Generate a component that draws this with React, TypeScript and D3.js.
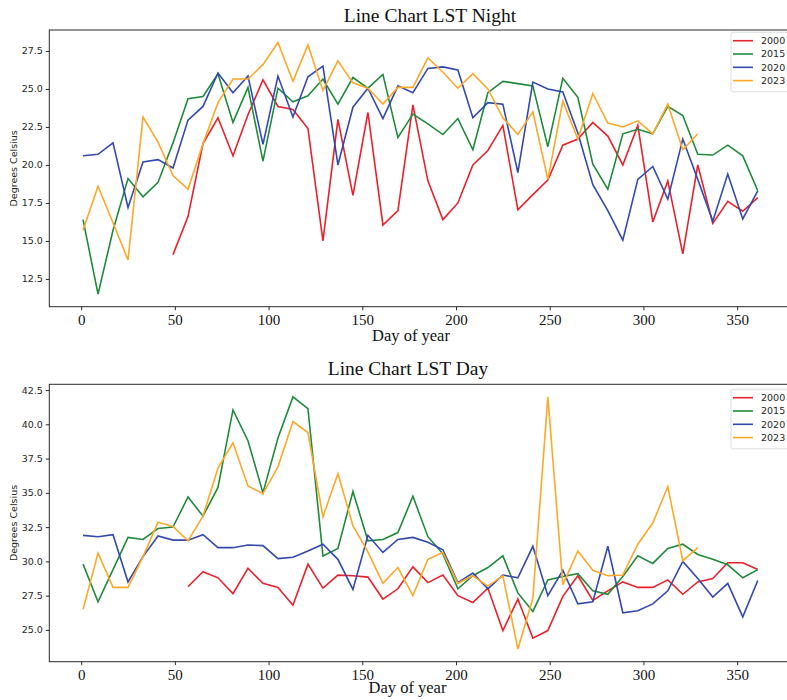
import { useEffect, useRef } from "react";
import * as d3 from "d3";

// MODIS 8-day composites, day of year
const days = [
  1, 9, 17, 25, 33, 41, 49, 57, 65, 73, 81, 89, 97, 105, 113, 121, 129, 137, 145, 153, 161, 169, 177,
  185, 193, 201, 209, 217, 225, 233, 241, 249, 257, 265, 273, 281, 289, 297, 305, 313, 321, 329, 337,
  345, 353, 361,
];
const years = ["2000", "2015", "2020", "2023"];
const colors = ["#e8212b", "#1f8a3b", "#3349ad", "#fca828"];

const xTicks = [0, 50, 100, 150, 200, 250, 300, 350];
const nightTicks = [12.5, 15.0, 17.5, 20.0, 22.5, 25.0, 27.5];
const dayTicks = [25.0, 27.5, 30.0, 32.5, 35.0, 37.5, 40.0, 42.5];

const night2000 = [
  null, null, null, null, null, null, 14.1, 16.6, 21.4, 23.1, 20.6, 23.3, 25.6, 23.85, 23.65, 22.4,
  15.0, 23.0, 18.0, 23.45, 16.05, 17.0, 23.95, 18.95, 16.4, 17.5, 20.0, 20.95, 22.6, 17.05, 18.05,
  19.0, 21.3, 21.7, 22.8, 21.9, 20.0, 22.6, 16.25, 18.95, 14.15, 20.0, 16.15, 17.6, 16.95, 17.85,
];
const night2015 = [
  16.4, 11.5, 15.7, 19.1, 17.9, 18.85, 21.45, 24.35, 24.5, 26.0, 22.8, 25.1, 20.25, 25.05, 24.15,
  24.55, 25.65, 24.0, 25.75, 25.05, 25.95, 21.8, 23.35, 22.7, 22.0, 23.05, 21.0, 24.75, 25.5, 25.35,
  25.2, 21.2, 25.7, 24.45, 20.05, 18.4, 22.05, 22.35, 22.05, 23.85, 23.25, 20.7, 20.65, 21.3, 20.6,
  18.3,
];
const night2020 = [
  20.6, 20.7, 21.45, 17.2, 20.2, 20.35, 19.8, 22.95, 23.85, 26.05, 24.75, 25.85, 21.35, 25.85, 23.15,
  25.8, 26.5, 20.0, 23.8, 25.05, 23.05, 25.2, 24.75, 26.35, 26.45, 26.25, 23.1, 24.1, 24.0, 19.5,
  25.45, 25.0, 24.8, 22.1, 18.7, 17.0, 15.05, 19.05, 19.9, 17.75, 21.7, 19.05, 16.3, 19.4, 16.45,
  18.3,
];
const night2023 = [
  15.7, 18.6, 16.2, 13.75, 23.15, 21.5, 19.3, 18.4, 21.4, 24.1, 25.65, 25.65, 26.6, 28.05, 25.5, 27.9,
  24.9, 26.85, 25.4, 25.05, 24.0, 25.1, 25.1, 27.05, 26.1, 25.05, 26.0, 25.0, 23.1, 22.0, 23.5, 19.05,
  24.2, 21.7, 24.7, 22.75, 22.5, 22.9, 22.05, 24.0, 21.0, 22.05, null, null, null, null,
];

const day2000 = [
  null, null, null, null, null, null, null, 28.15, 29.25, 28.8, 27.65, 29.5, 28.4, 28.1, 26.8, 29.8,
  28.05, 29.0, 28.95, 28.85, 27.25, 28.0, 29.6, 28.45, 29.0, 27.5, 27.0, 28.05, 24.95, 27.25, 24.4,
  24.95, 27.45, 28.95, 27.15, 27.85, 28.5, 28.1, 28.1, 28.65, 27.6, 28.5, 28.75, 29.9, 29.9, 29.4,
];
const day2015 = [
  29.8, 27.05, 29.4, 31.75, 31.6, 32.4, 32.5, 34.7, 33.3, 35.4, 41.05, 38.8, 35.0, 39.0, 42.0, 41.15,
  30.4, 30.95, 35.1, 31.5, 31.6, 32.1, 34.75, 31.8, 30.55, 28.0, 28.95, 29.55, 30.4, 27.7, 26.35,
  28.65, 28.9, 29.1, 27.85, 27.6, 28.9, 30.4, 29.85, 30.95, 31.25, 30.5, 30.15, 29.75, 28.8, 29.4,
];
const day2020 = [
  31.9, 31.8, 31.95, 28.5, 30.35, 31.85, 31.55, 31.55, 31.95, 31.0, 31.0, 31.2, 31.15, 30.2, 30.3,
  30.75, 31.25, 30.15, 27.95, 31.9, 30.65, 31.6, 31.75, 31.4, 30.85, 28.45, 29.15, 28.0, 29.0, 28.8,
  31.1, 27.5, 29.35, 26.9, 27.05, 31.1, 26.25, 26.4, 26.9, 27.85, 30.0, 28.75, 27.4, 28.4, 25.95, 28.6,
];
const day2023 = [
  26.5, 30.6, 28.1, 28.1, 30.35, 32.85, 32.55, 31.5, 33.3, 36.8, 38.65, 35.5, 34.95, 36.9, 40.2, 39.4,
  33.25, 36.4, 32.6, 30.7, 28.4, 29.55, 27.5, 30.15, 30.65, 28.4, 28.95, 28.2, 28.95, 23.6, 27.3, 42.0,
  28.3, 30.75, 29.35, 28.95, 29.0, 31.25, 32.8, 35.45, 30.05, 31.0, null, null, null, null,
];

const serif = "'Liberation Serif', 'Times New Roman', serif";
const sans = "'DejaVu Sans', sans-serif";

const panels = [
  {
    title: "Line Chart LST Night",
    titleX: 430,
    titleY: 21.7,
    xLabelX: 411,
    xLabelY: 341,
    top: 30,
    bottom: 306.7,
    legendTop: 32.3,
    ticks: nightTicks,
    series: [night2000, night2015, night2020, night2023],
  },
  {
    title: "Line Chart LST Day",
    titleX: 408,
    titleY: 375,
    xLabelX: 407.5,
    xLabelY: 693,
    top: 384.3,
    bottom: 661.7,
    legendTop: 389.3,
    ticks: dayTicks,
    series: [day2000, day2015, day2020, day2023],
  },
];

// matplotlib-like 5% margins
function padded(ext: [number, number]): [number, number] {
  const m = (ext[1] - ext[0]) * 0.05;
  return [ext[0] - m, ext[1] + m];
}

export default function App() {
  const svgRef = useRef<SVGSVGElement>(null);

  useEffect(() => {
    const svg = d3.select(svgRef.current);
    svg.selectAll("*").remove();

    const left = 49.3;
    const right = 791.5;
    const x = d3
      .scaleLinear()
      .domain(padded(d3.extent(days) as [number, number]))
      .range([left, right]);

    panels.forEach((p) => {
      const all = p.series.flat().filter((v) => v != null) as number[];
      const y = d3
        .scaleLinear()
        .domain(padded(d3.extent(all) as [number, number]))
        .range([p.bottom, p.top]);

      const g = svg.append("g");

      // lines
      p.series.forEach((vals, i) => {
        const line = d3
          .line<number | null>()
          .defined((d) => d != null)
          .x((_, j) => x(days[j]))
          .y((d) => y(d as number));
        g.append("path")
          .datum(vals)
          .attr("fill", "none")
          .attr("stroke", colors[i])
          .attr("stroke-width", 1.6)
          .attr("stroke-linejoin", "miter")
          .attr("d", line);
      });

      // frame
      g.append("rect")
        .attr("x", left)
        .attr("y", p.top)
        .attr("width", right - left)
        .attr("height", p.bottom - p.top)
        .attr("fill", "none")
        .attr("stroke", "#2a2a2a")
        .attr("stroke-width", 1);

      // y axis
      const yAxis = g
        .append("g")
        .attr("transform", `translate(${left},0)`)
        .call(d3.axisLeft(y).tickValues(p.ticks).tickFormat(d3.format(".1f")).tickSize(3.5).tickPadding(3));
      yAxis.select(".domain").remove();
      yAxis.selectAll("line").attr("stroke", "#2a2a2a");
      yAxis.selectAll("text").attr("font-family", sans).attr("font-size", 9.5).attr("fill", "#262626");

      // x axis
      const xAxis = g
        .append("g")
        .attr("transform", `translate(0,${p.bottom})`)
        .call(d3.axisBottom(x).tickValues(xTicks).tickFormat(d3.format("d")).tickSize(3.5).tickPadding(4));
      xAxis.select(".domain").remove();
      xAxis.selectAll("line").attr("stroke", "#2a2a2a");
      xAxis.selectAll("text").attr("font-family", serif).attr("font-size", 15).attr("fill", "#111");

      // labels
      g.append("text")
        .attr("x", p.titleX)
        .attr("y", p.titleY)
        .attr("text-anchor", "middle")
        .attr("font-family", serif)
        .attr("font-size", 19.5)
        .attr("fill", "#111")
        .text(p.title);

      g.append("text")
        .attr("x", p.xLabelX)
        .attr("y", p.xLabelY)
        .attr("text-anchor", "middle")
        .attr("font-family", serif)
        .attr("font-size", 16.5)
        .attr("fill", "#111")
        .text("Day of year");

      g.append("text")
        .attr("transform", `translate(16.5,${(p.top + p.bottom) / 2}) rotate(-90)`)
        .attr("text-anchor", "middle")
        .attr("font-family", sans)
        .attr("font-size", 9.5)
        .attr("fill", "#262626")
        .text("Degrees Celsius");

      // legend
      const lg = g.append("g").attr("transform", `translate(731,${p.legendTop})`);
      lg.append("rect")
        .attr("width", 70)
        .attr("height", 59.5)
        .attr("rx", 2)
        .attr("fill", "#fff")
        .attr("stroke", "#d4d4d4")
        .attr("stroke-width", 0.8);
      years.forEach((yr, i) => {
        const cy = 8.4 + i * 13.3;
        lg.append("line")
          .attr("x1", 2)
          .attr("x2", 22)
          .attr("y1", cy)
          .attr("y2", cy)
          .attr("stroke", colors[i])
          .attr("stroke-width", 1.6);
        lg.append("text")
          .attr("x", 30)
          .attr("y", cy)
          .attr("dy", "0.35em")
          .attr("font-family", sans)
          .attr("font-size", 9.5)
          .attr("fill", "#262626")
          .text(yr);
      });
    });
  }, []);

  return (
    <svg
      ref={svgRef}
      width={787}
      height={700}
      style={{ position: "absolute", left: 0, top: 0, background: "#fff" }}
    />
  );
}
